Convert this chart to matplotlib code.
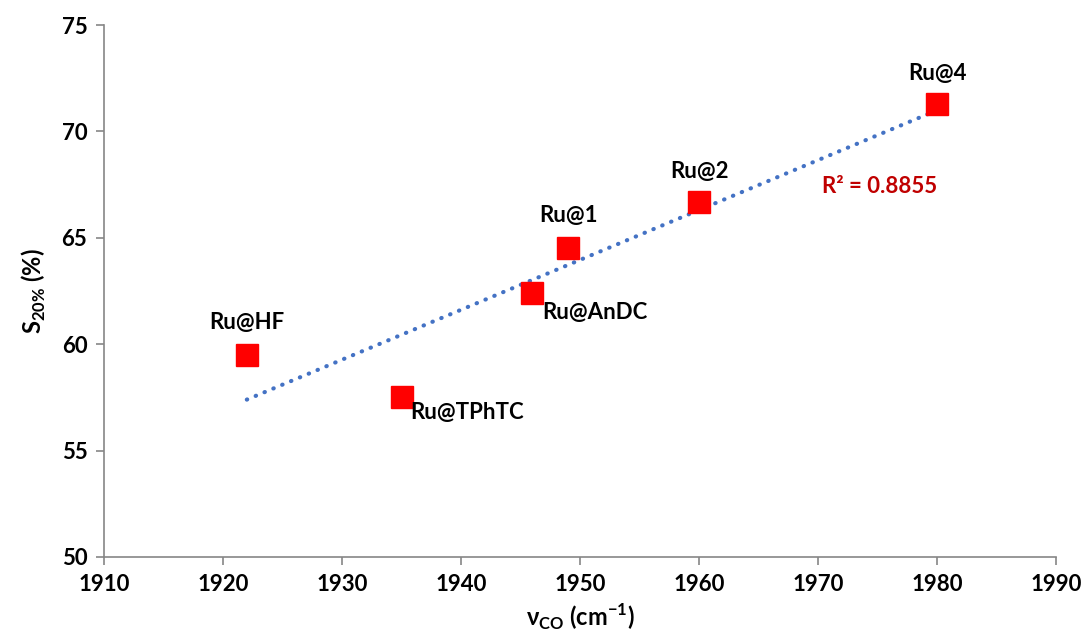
import numpy as np
import matplotlib
matplotlib.use("Agg")
import matplotlib.pyplot as plt

plt.rcParams['font.family'] = ['Lato', 'DejaVu Sans']
plt.rcParams['font.weight'] = 'bold'

names = ["Ru@HF", "Ru@TPhTC", "Ru@AnDC", "Ru@1", "Ru@2", "Ru@4"]
nu_co = [1922, 1935, 1946, 1949, 1960, 1980]
s20 = [59.5, 57.5, 62.4, 64.5, 66.7, 71.3]
xticks = [1910, 1920, 1930, 1940, 1950, 1960, 1970, 1980, 1990]
yticks = [50, 55, 60, 65, 70, 75]
r2_text = "R² = 0.8855"

# label offsets (points) and alignment
offsets = {
    "Ru@HF": ((0, 23), 'center'),
    "Ru@TPhTC": ((6, -11), 'left'),
    "Ru@AnDC": ((7, -14), 'left'),
    "Ru@1": ((0, 24), 'center'),
    "Ru@2": ((0, 22), 'center'),
    "Ru@4": ((0, 22), 'center'),
}

fig = plt.figure(figsize=(10.81, 6.42), dpi=100)
ax = fig.add_axes([0.0962, 0.1324, 0.8808, 0.8286])

# trendline
x = np.array(nu_co, dtype=float)
y = np.array(s20, dtype=float)
k, b = np.polyfit(x, y, 1)
xx = np.linspace(x.min(), x.max(), 100)
ax.plot(xx, k * xx + b, color='#4472C4', linewidth=3, linestyle=(0, (0.1, 2.2)),
        dash_capstyle='round', zorder=2)

ax.plot(nu_co, s20, linestyle='none', marker='s', markersize=15.5,
        color='#FF0000', zorder=3)

for n, xv, yv in zip(names, nu_co, s20):
    off, ha = offsets[n]
    ax.annotate(n, (xv, yv), xytext=off, textcoords='offset points',
                ha=ha, va='center', fontsize=16, fontweight='bold', color='#000000')

ax.text(1970.3, 67.4, r2_text, ha='left', va='center', fontsize=16,
        fontweight='bold', color='#C00000')

ax.set_xlim(1910, 1990)
ax.set_ylim(50, 75)
ax.set_xticks(xticks)
ax.set_yticks(yticks)
ax.tick_params(axis='both', labelsize=16, length=6, width=1.2, color='#868686',
               direction='out', pad=6)
for lab in ax.get_xticklabels() + ax.get_yticklabels():
    lab.set_fontweight('bold')
for s in ['top', 'right']:
    ax.spines[s].set_visible(False)
for s in ['left', 'bottom']:
    ax.spines[s].set_color('#868686')
    ax.spines[s].set_linewidth(1.2)

ax.set_ylabel(r'S$_{\mathregular{20\%}}$ (%)', fontsize=17, fontweight='bold', labelpad=10)
ax.set_xlabel(r'ν$_{\mathregular{CO}}$ (cm$^{\mathregular{-1}}$)', fontsize=17, fontweight='bold', labelpad=5)

fig.savefig('out.png', dpi=100)
